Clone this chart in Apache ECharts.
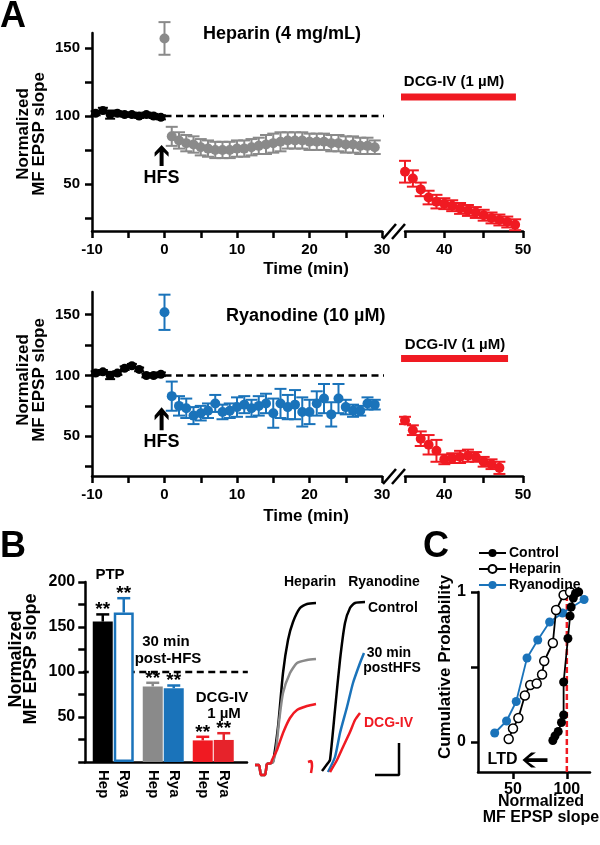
<!DOCTYPE html>
<html><head><meta charset="utf-8">
<script src="https://cdn.jsdelivr.net/npm/echarts@6/dist/echarts.min.js"></script>
<style>html,body{margin:0;padding:0;background:#fff}#c{width:600px;height:845px}</style>
</head><body><div id="c"></div>
<script>
// ---------------- DATA ----------------
// Panel A (time courses)
const baselineTime = [-9.5,-8.5,-7.5,-6.5,-5.5,-4.5,-3.5,-2.5,-1.5,-0.5];
const ptpTime = 0;
const postTime = [1,2,3,4,5,6,7,8,9,10,11,12,13,14,15,16,17,18,19,20,21,22,23,24,25,26,27,28,29];
const hepDcgTime = [35,36,37,38,39,40,41,42,43,44,45,46,47,48,49];
const ryaDcgTime = [35,36,37,38,39,40,41,42,43,44,45,46,47];

const hepBaseline = [102,104,101,102,101,101,100,101,100,99];
const hepBaselineErr = [1.5,2,3,1.5,1.5,1.5,1.5,1.5,1.5,1.5];
const hepPtp = 157, hepPtpErr = 12;
const hepPost = [85,82,80,79,77,76,75,75,75,76,76,77,78,79,80,81,82,82,82,81,81,81,80,80,79,79,78,78,77];
const hepPostErr = [7,6,6,6,6,6,6,6,6,6,6,6,6,7,7,7,6,6,6,6,6,6,6,6,6,6,6,6,5];
const hepDcg = [59,54,46,40,37,35.5,34,32,30.5,29,27,25,23.5,22,20];
const hepDcgErr = [8,6,5,5,5,4,4,4,4,4,4,4,4,4,4];

const ryaBaseline = [102,103,100,102,106,108,105,100,100,101];
const ryaBaselineErr = [1.5,1.5,3,1.5,1.5,1.5,1.5,1.5,1.5,1.5];
const ryaPtp = 152, ryaPtpErr = 14.5;
const ryaPost = [83,75,73,67,69,71,77,70,71,74,76,73,75,77,69,77,74,76,70,70,77,81,68,81,74,71,71,77,76];
const ryaPostErr = [12,8,8,7,6,6,7,6,6,8,7,7,8,8,12,12,10,12,12,10,10,12,10,12,6,5,4,5,4];
const ryaDcg = [63,55,48,43,38,31,32,33,34,33,29,27,24];
const ryaDcgErr = [3,4,6,8,9,4,4,5,5,4,4,4,5];

const baselineLevel = 100;
const dcgApplyHep = [34, 49.1];
const dcgApplyRya = [34.5, 48.1];
const dcgApplyLevel = 114;
const hfsTime = -0.4;

// Panel B (bar summary)
const barGroups = ['PTP', '30 min post-HFS', 'DCG-IV 1 \u00b5M'];
const hepBars = [156, 84, 24];
const hepBarsErr = [8, 4, 4];
const ryaBars = [166, 82, 24.5];
const ryaBarsErr = [16, 3, 7.5];

// Panel B example traces (x: time units, y: amplitude units)
const traceHepControl = [[5,25],[9,25],[11,15],[15,15],[17,26],[21,27],[23,28],[28,63],[33,117],[38,150],[43,168],[50,182],[57,186],[66,187]];
const traceHepPost = [[5,25],[9,25],[11,15],[15,15],[17,26],[21,27],[23,28],[26,40],[29,68],[33,97],[40,117],[47,127],[57,130],[66,131]];
const traceHepDcg = [[5,25],[9,25],[11,15],[15,15],[17,26],[21,27],[22,30],[27,40],[33,57],[40,72],[47,80],[57,84],[66,86]];
const traceRyaArtifact = [[58,28],[61,29],[62,24],[61,17]];
const traceRyaControl = [[72,19],[75,23],[78,27],[80,30],[85,80],[90,130],[95,167],[100,182],[105,187],[115,188]];
const traceRyaPost = [[78,18],[85,33],[90,57],[97,83],[103,107],[110,127],[114,137]];
const traceRyaDcg = [[80,18],[87,30],[93,43],[100,58],[105,70],[110,77]];
const scaleBar = [[125,15],[149,15],[149,47]];

// Panel C (cumulative probability)
const ctrlSlope = [87,89,92,95,97,97,101,103,104,106,108,111];
const ctrlProb  = [0.01,0.04,0.07,0.13,0.18,0.40,0.69,0.84,0.90,0.96,0.99,1.0];
const hepSlope = [46,50,55,61,66,72,77,79,87,90,97,103];
const hepProb  = [0.02,0.09,0.16,0.31,0.38,0.39,0.45,0.54,0.66,0.88,0.98,1.0];
const ryaSlope = [33,44,53,63,73,84,96,116];
const ryaProb  = [0.06,0.14,0.27,0.56,0.68,0.80,0.86,0.95];
const ltdArrowAt = [70.4, -0.12];

// ---------------- STYLE ----------------
const FONT = '"Liberation Sans", Arial, Helvetica, sans-serif';
const BLACK = '#000000', GRAY = '#8a8a8a', BLUE = '#1a73ba', RED = '#f01a22', RED2 = '#e6232b';

const pts = (xs, ys) => xs.map((x, i) => [x, ys[i]]);
const errs = (xs, ys, es) => xs.map((x, i) => [x, ys[i], es[i]]);

function errSeries(xi, yi, data, color, cap) {
  return {
    type: 'custom', xAxisIndex: xi, yAxisIndex: yi, data, encode: {x: 0, y: 1}, clip: false,
    renderItem(params, api) {
      const x = api.value(0), y = api.value(1), e = api.value(2);
      const t = api.coord([x, y + e]), b = api.coord([x, y - e]);
      const s = {stroke: color, lineWidth: 2};
      return {type: 'group', children: [
        {type: 'line', shape: {x1: t[0], y1: t[1], x2: b[0], y2: b[1]}, style: s},
        {type: 'line', shape: {x1: t[0] - cap, y1: t[1], x2: t[0] + cap, y2: t[1]}, style: s},
        {type: 'line', shape: {x1: b[0] - cap, y1: b[1], x2: b[0] + cap, y2: b[1]}, style: s}
      ]};
    }
  };
}
function dots(xi, yi, data, color, size) {
  return {type: 'scatter', xAxisIndex: xi, yAxisIndex: yi, data, symbol: 'circle', symbolSize: size || 10,
    itemStyle: {color, opacity: 1}, clip: false};
}
const ARROW_UP = 'path://M7,0 L14,8 L14,12.5 L9,7.5 L9,22 L5,22 L5,7.5 L0,12.5 L0,8 Z';
const ARROW_LEFT = 'path://M0,8 L9,0 L14,0 L6,6 L26,6 L26,10 L6,10 L14,16 L9,16 Z';

function axisLineStyle() { return {show: true, onZero: false, lineStyle: {color: '#000', width: 2.5}}; }
function labelStyle(size) { return {color: '#000', fontSize: size, fontWeight: 'bold', fontFamily: FONT}; }

function timeX(grid, min, max, ticks, labels) {
  return {type: 'value', gridIndex: grid, min, max,
    axisLine: axisLineStyle(),
    axisTick: {show: true, length: 7, lineStyle: {color: '#000', width: 2.5}, customValues: ticks},
    axisLabel: Object.assign({show: true, margin: 11, customValues: labels}, labelStyle(15)),
    splitLine: {show: false}};
}
function timeY(grid, min, max) {
  return {type: 'value', gridIndex: grid, min, max,
    axisLine: axisLineStyle(),
    axisTick: {show: true, length: 7, lineStyle: {color: '#000', width: 2.5}, customValues: [25,50,75,100,125,150]},
    axisLabel: Object.assign({show: true, margin: 12, customValues: [50,100,150]}, labelStyle(15)),
    splitLine: {show: false}};
}
function hidden(type, grid, min, max) {
  return {type, gridIndex: grid, min, max, show: false, splitLine: {show: false}};
}

function T(text, x, y, o) {
  o = o || {};
  return {type: 'text', x, y, rotation: o.rot || 0, z: 100,
    style: {text, fill: o.color || '#000', fontSize: o.size || 15, fontWeight: 'bold', fontFamily: FONT,
      align: o.align || 'center', verticalAlign: 'middle', lineHeight: o.lh || undefined}};
}

function timePanel(gL, gR, base, baseErr, ptp, ptpErr, post, postErr, ptpColor, postColor, dcgT, dcg, dcgErr, apply, hfsLevel, hfsSize) {
  return [
    {type: 'line', xAxisIndex: gL, yAxisIndex: gL, data: [[0, baselineLevel], [50, baselineLevel]], clip: false,
      symbol: 'none', lineStyle: {color: '#000', width: 2.5, type: [7, 4.5]}, z: 1},
    errSeries(gL, gL, errs(baselineTime, base, baseErr), BLACK, 5),
    dots(gL, gL, pts(baselineTime, base), BLACK, 9),
    errSeries(gL, gL, [[ptpTime, ptp, ptpErr]], ptpColor, 6),
    dots(gL, gL, [[ptpTime, ptp]], ptpColor, 10),
    errSeries(gL, gL, errs(postTime, post, postErr), postColor, 6),
    dots(gL, gL, pts(postTime, post), postColor, 10),
    {type: 'line', xAxisIndex: gR, yAxisIndex: gR, data: [[apply[0], dcgApplyLevel], [apply[1], dcgApplyLevel]], clip: false,
      symbol: 'none', lineStyle: {color: RED, width: 7, cap: 'butt'}},
    errSeries(gR, gR, errs(dcgT, dcg, dcgErr), RED, 6),
    dots(gR, gR, pts(dcgT, dcg), RED, 10),
    {type: 'scatter', xAxisIndex: gL, yAxisIndex: gL, data: [[hfsTime, hfsLevel]], symbol: ARROW_UP,
      symbolSize: hfsSize, itemStyle: {color: '#000', opacity: 1}, clip: false,
      label: {show: true, position: 'bottom', distance: 3, formatter: 'HFS', color: '#000', opacity: 1, fontSize: 18, fontWeight: 'bold', fontFamily: FONT}}
  ];
}

function barErr(data, offset, colors, stars) {
  return {type: 'custom', xAxisIndex: 4, yAxisIndex: 4, data, encode: {x: 0, y: 1}, clip: false, z: 5,
    renderItem(params, api) {
      const c = api.coord([api.value(0), api.value(1)]);
      const t = api.coord([api.value(0), api.value(1) + api.value(2)]);
      const x = c[0] + offset;
      const s = {stroke: colors[params.dataIndex], lineWidth: 2.5};
      return {type: 'group', children: [
        {type: 'line', shape: {x1: x, y1: c[1], x2: x, y2: t[1]}, style: s},
        {type: 'line', shape: {x1: x - 6.5, y1: t[1], x2: x + 6.5, y2: t[1]}, style: s},
        {type: 'text', x: x, y: t[1] + 5, style: {text: stars, fill: '#000', fontSize: 19, fontWeight: 'bold', fontFamily: FONT, align: 'center', verticalAlign: 'bottom'}}
      ]};
    }};
}

const hepColors = [BLACK, GRAY, RED];
const ryaColors = [BLUE, BLUE, RED2];

function traceLine(data, color, w) {
  return {type: 'line', xAxisIndex: 6, yAxisIndex: 6, data, symbol: 'none', smooth: 0.2,
    lineStyle: {color, width: w || 2.5}, clip: false};
}

const option = {
  backgroundColor: '#ffffff',
  animation: false,
  grid: [
    {left: 92, top: 33, width: 290, height: 198},
    {left: 405, top: 33, width: 118, height: 198},
    {left: 92, top: 292, width: 290, height: 184},
    {left: 405, top: 292, width: 118, height: 184},
    {left: 88.25, top: 582, width: 150, height: 180},
    {left: 85, top: 582, width: 162, height: 180},
    {left: 250, top: 590, width: 180, height: 200},
    {left: 478, top: 592, width: 112, height: 180}
  ],
  xAxis: [
    timeX(0, -10, 30, [-10,-5,0,5,10,15,20,25,30], [-10,0,10,20,30]),
    timeX(1, 35, 50, [35,40,45,50], [40,50]),
    timeX(2, -10, 30, [-10,-5,0,5,10,15,20,25,30], [-10,0,10,20,30]),
    timeX(3, 35, 50, [35,40,45,50], [40,50]),
    {type: 'category', gridIndex: 4, data: barGroups, show: false},
    {type: 'value', gridIndex: 5, min: 0, max: 1, axisLine: axisLineStyle(), axisTick: {show: false}, axisLabel: {show: false}, splitLine: {show: false}},
    hidden('value', 6, 0, 180),
    {type: 'value', gridIndex: 7, min: 17.5, max: 121.5,
      axisLine: axisLineStyle(),
      axisTick: {show: true, length: 7, lineStyle: {color: '#000', width: 2.5}, customValues: [50, 100]},
      axisLabel: Object.assign({show: true, margin: 10, customValues: [50, 100]}, labelStyle(16)),
      splitLine: {show: false}}
  ],
  yAxis: [
    timeY(0, 15.4, 161),
    hidden('value', 1, 15.4, 161),
    timeY(2, 17.3, 168.7),
    hidden('value', 3, 17.3, 168.7),
    {type: 'value', gridIndex: 4, min: 0, max: 200, interval: 25, offset: 3,
      axisLine: axisLineStyle(),
      axisTick: {show: true, length: 7, lineStyle: {color: '#000', width: 2.5}},
      axisLabel: Object.assign({show: true, margin: 10, formatter: v => (v > 0 && v % 50 === 0) ? String(v) : ''}, labelStyle(16)),
      splitLine: {show: false}},
    hidden('value', 5, 0, 200),
    hidden('value', 6, 0, 200),
    {type: 'value', gridIndex: 7, min: -0.2, max: 1.0,
      axisLine: axisLineStyle(),
      axisTick: {show: true, length: 7, lineStyle: {color: '#000', width: 2.5}, customValues: [0, 0.5, 1]},
      axisLabel: Object.assign({show: true, margin: 12, customValues: [0, 1], formatter: v => String(v)}, labelStyle(16)),
      splitLine: {show: false}}
  ],
  legend: {
    orient: 'vertical', left: 473, top: 541, itemGap: 2, itemWidth: 27, itemHeight: 10, selectedMode: false,
    textStyle: {color: '#000', fontSize: 14, fontWeight: 'bold', fontFamily: FONT, lineHeight: 14, padding: [0, 0, 0, -2]},
    data: ['Control', 'Heparin', 'Ryanodine']
  },
  series: [].concat(
    timePanel(0, 1, hepBaseline, hepBaselineErr, hepPtp, hepPtpErr, hepPost, hepPostErr, GRAY, GRAY,
      hepDcgTime, hepDcg, hepDcgErr, dcgApplyHep, 71, [14, 21]),
    timePanel(2, 3, ryaBaseline, ryaBaselineErr, ryaPtp, ryaPtpErr, ryaPost, ryaPostErr, BLUE, BLUE,
      ryaDcgTime, ryaDcg, ryaDcgErr, dcgApplyRya, 64.5, [14, 23]),
    [
      // Panel B
      {type: 'line', xAxisIndex: 5, yAxisIndex: 5, data: [[-0.02, baselineLevel], [1.005, baselineLevel]], clip: false,
        symbol: 'none', lineStyle: {color: '#000', width: 2.5, type: [7, 4.5]}, z: 1},
      {type: 'bar', name: 'Hep', xAxisIndex: 4, yAxisIndex: 4, barWidth: 20, barGap: '5%', z: 3,
        data: hepBars.map((v, i) => ({value: v, itemStyle: {color: hepColors[i]}})),
        label: {show: true, position: 'bottom', distance: 8, rotate: -90, align: 'left', verticalAlign: 'middle',
          formatter: 'Hep', color: '#000', fontSize: 15, fontWeight: 'bold', fontFamily: FONT}},
      {type: 'bar', name: 'Rya', xAxisIndex: 4, yAxisIndex: 4, barWidth: 20, barGap: '5%', z: 3,
        data: ryaBars.map((v, i) => ({value: v, itemStyle: i === 0 ? {color: '#ffffff', borderColor: BLUE, borderWidth: 2.5} : {color: ryaColors[i]}})),
        label: {show: true, position: 'bottom', distance: 8, rotate: -90, align: 'left', verticalAlign: 'middle',
          formatter: 'Rya', color: '#000', fontSize: 15, fontWeight: 'bold', fontFamily: FONT}},
      barErr(errs([0, 1, 2], hepBars, hepBarsErr), -10.5, hepColors, '**'),
      barErr(errs([0, 1, 2], ryaBars, ryaBarsErr), 10.5, ryaColors, '**'),
      // Traces
      traceLine(traceHepControl, BLACK),
      traceLine(traceHepPost, GRAY),
      traceLine(traceHepDcg, RED),
      traceLine(traceRyaArtifact, RED),
      traceLine(traceRyaControl, BLACK),
      traceLine(traceRyaPost, BLUE),
      traceLine(traceRyaDcg, RED),
      {type: 'line', xAxisIndex: 6, yAxisIndex: 6, data: scaleBar, symbol: 'none', lineStyle: {color: '#000', width: 2.5}, clip: false},
      // Panel C
      {type: 'line', xAxisIndex: 7, yAxisIndex: 7, data: [[100, -0.2], [100, 1.0]], symbol: 'none',
        lineStyle: {color: RED, width: 2.5, type: [6, 3]}, z: 1},
      {type: 'line', name: 'Ryanodine', xAxisIndex: 7, yAxisIndex: 7, data: pts(ryaSlope, ryaProb), symbol: 'circle', symbolSize: 9,
        lineStyle: {color: BLUE, width: 1.8}, itemStyle: {color: BLUE}, z: 2},
      {type: 'line', name: 'Heparin', xAxisIndex: 7, yAxisIndex: 7, data: pts(hepSlope, hepProb), symbol: 'circle', symbolSize: 9,
        lineStyle: {color: BLACK, width: 1.8}, itemStyle: {color: '#ffffff', borderColor: '#000', borderWidth: 1.5}, z: 3},
      {type: 'line', name: 'Control', xAxisIndex: 7, yAxisIndex: 7, data: pts(ctrlSlope, ctrlProb), symbol: 'circle', symbolSize: 9,
        lineStyle: {color: BLACK, width: 1.8}, itemStyle: {color: BLACK}, z: 4},
      {type: 'scatter', xAxisIndex: 7, yAxisIndex: 7, data: [ltdArrowAt], symbol: ARROW_LEFT, symbolSize: [25, 15],
        itemStyle: {color: '#000', opacity: 1}, clip: false,
        label: {show: true, position: 'left', distance: 5, formatter: 'LTD', color: '#000', opacity: 1, fontSize: 16, fontWeight: 'bold', fontFamily: FONT}}
    ]
  ),
  graphic: [
    T('A', 0, 17.5, {size: 36, align: 'left'}),
    T('B', 0, 547, {size: 36, align: 'left'}),
    T('C', 423, 547, {size: 36, align: 'left'}),
    T('Heparin (4 mg/mL)', 203, 34.5, {size: 18, align: 'left'}),
    T('Ryanodine (10 \u00b5M)', 226, 316, {size: 18, align: 'left'}),
    T('DCG-IV (1 \u00b5M)', 454, 82, {size: 15}),
    T('DCG-IV (1 \u00b5M)', 455, 345, {size: 15}),
    T('Time (min)', 306, 269.5, {size: 17}),
    T('Time (min)', 306, 516, {size: 17}),
    T('Normalized\nMF EPSP slope', 31, 134, {size: 17, rot: Math.PI / 2, lh: 16}),
    T('Normalized\nMF EPSP slope', 31, 380, {size: 17, rot: Math.PI / 2, lh: 16}),
    {type: 'line', shape: {x1: 383, y1: 239, x2: 396, y2: 224}, style: {stroke: '#000', lineWidth: 2.5}},
    {type: 'line', shape: {x1: 392, y1: 239, x2: 405, y2: 224}, style: {stroke: '#000', lineWidth: 2.5}},
    {type: 'line', shape: {x1: 383, y1: 484, x2: 396, y2: 469}, style: {stroke: '#000', lineWidth: 2.5}},
    {type: 'line', shape: {x1: 392, y1: 484, x2: 405, y2: 469}, style: {stroke: '#000', lineWidth: 2.5}},
    // Panel B texts
    T('PTP', 110, 574.5, {size: 15}),
    T('30 min', 166, 641.5, {size: 15}),
    T('post-HFS', 168, 659, {size: 15}),
    T('DCG-IV', 222, 697.5, {size: 15}),
    T('1 \u00b5M', 224, 714, {size: 15}),
    T('Normalized\nMF EPSP slope', 24, 659, {size: 18, rot: Math.PI / 2, lh: 15}),
    T('Heparin', 310, 582, {size: 14}),
    T('Ryanodine', 384, 582, {size: 14}),
    T('Control', 368, 608, {size: 14, align: 'left'}),
    T('30 min', 389, 653, {size: 14}),
    T('postHFS', 392, 668, {size: 14}),
    T('DCG-IV', 364, 723, {size: 14, align: 'left', color: RED}),
    // Panel C texts
    T('Cumulative Probability', 445, 667, {size: 17, rot: Math.PI / 2}),
    T('Normalized', 541, 802, {size: 16}),
    T('MF EPSP slope', 541, 818, {size: 16})
  ]
};

const chart = echarts.init(document.getElementById('c'), null, {width: 600, height: 845});
chart.setOption(option);
</script>
</body></html>
